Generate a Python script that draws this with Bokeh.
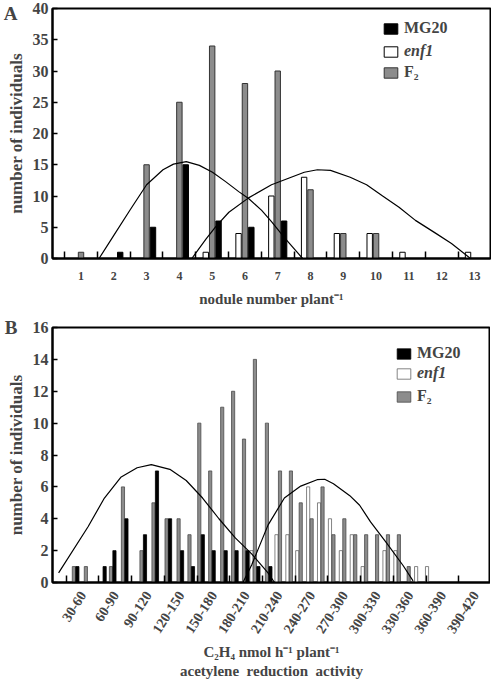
from bokeh.plotting import figure
from bokeh.layouts import column
from bokeh.models import (Range1d, FixedTicker, Legend, LegendItem, LinearAxis,
                          ColumnDataSource)
from bokeh.embed import file_html
from bokeh.resources import INLINE

FONT = "Liberation Serif"
GRAY = "#8c8c8c"
GRAY_LINE = "#4a4a4a"

# ---------------- Panel A data ----------------
nodules = list(range(1, 14))
mg20_a = [0, 1, 5, 15, 6, 5, 6, 0, 0, 0, 0, 0, 0]
enf1_a = [0, 0, 0, 0, 1, 4, 10, 13, 4, 4, 1, 0, 1]
f2_a = [1, 0, 15, 25, 34, 28, 30, 11, 4, 4, 0, 0, 0]

fit_mg20_a_x = [1.55, 2.0, 2.5, 3.0, 3.5, 3.82, 4.21, 4.61, 5.01, 5.41, 5.81, 6.11, 6.51, 6.81, 7.21, 7.76]
fit_mg20_a_y = [0, 3.7, 7.8, 11.8, 14.2, 15.1, 15.5, 14.9, 13.8, 12.3, 10.7, 9.6, 7.7, 5.9, 3.3, 0]
fit_enf1_a_x = [4.38, 4.81, 5.11, 5.51, 6.11, 6.81, 7.31, 7.81, 8.21, 8.61, 9.21, 9.71, 10.2, 10.7, 11.2, 11.8, 12.3, 12.88]
fit_enf1_a_y = [0, 3.1, 5.1, 7.4, 9.7, 11.8, 12.8, 13.8, 14.2, 14.1, 13.0, 11.8, 10.0, 8.2, 6.1, 4.1, 2.4, 0]

# ---------------- Panel B data ----------------
act_x = [37, 48, 62, 71, 82, 99, 110, 122, 133, 143, 152, 162, 173, 183, 193, 203,
         214, 226, 236, 245, 255, 265, 275, 285, 295, 305, 315, 325, 335, 344, 354, 364]
mg20_b = [1, 0, 1, 2, 4, 3, 7, 4, 2, 1, 3, 2, 2, 2, 2, 1,
          1, 0, 0, 0, 0, 0, 0, 0, 0, 0, 0, 0, 0, 0, 0, 0]
enf1_b = [0, 0, 0, 0, 0, 0, 0, 0, 0, 0, 0, 0, 0, 0, 0, 2,
          0, 3, 3, 2, 6, 5, 4, 2, 3, 1, 0, 2, 2, 0, 1, 1]
f2_b = [1, 1, 0, 1, 6, 2, 5, 4, 4, 3, 10, 7, 11, 12, 9, 14,
        10, 7, 7, 5, 4, 6, 3, 4, 3, 3, 3, 3, 3, 1, 0, 0]
class_lo = [30, 60, 90, 120, 150, 180, 210, 240, 270, 300, 330, 360, 390]
class_hi = [60, 90, 120, 150, 180, 210, 240, 270, 300, 330, 360, 390, 420]

fit_mg20_b_x = [23, 50, 65, 80, 95, 108, 125, 140, 155, 170, 185, 200, 215, 221]
fit_mg20_b_y = [0.6, 3.5, 5.3, 6.6, 7.2, 7.4, 7.1, 6.4, 5.3, 4.0, 2.8, 1.8, 0.6, 0]
fit_enf1_b_x = [192, 200, 215, 230, 245, 260, 267, 275, 290, 299, 309, 324, 339, 348]
fit_enf1_b_y = [0, 1.1, 3.6, 5.3, 6.05, 6.45, 6.48, 6.2, 5.45, 4.85, 3.8, 2.45, 1.05, 0.1]


def bars(p, xs, vals, offset, width, fill, line, lw):
    src = ColumnDataSource(dict(
        x=[x + offset for x, v in zip(xs, vals) if v > 0],
        top=[v for v in vals if v > 0]))
    return p.vbar(x="x", top="top", bottom=0, width=width, source=src,
                  fill_color=fill, line_color=line, line_width=lw)


def style(p):
    p.outline_line_color = "black"
    p.outline_line_width = 2
    p.xgrid.visible = False
    p.ygrid.visible = False
    for ax in (p.xaxis[0], p.yaxis[0]):
        ax.axis_line_width = 2
        ax.major_label_text_font = FONT
        ax.major_label_text_font_style = "bold"
        ax.axis_label_text_font = FONT
        ax.axis_label_text_font_style = "bold"
        ax.minor_tick_line_color = None
    p.yaxis.major_tick_in = 5
    p.yaxis.major_tick_out = 0
    p.yaxis.major_tick_line_width = 1.5
    p.yaxis.major_label_text_font_size = "16px"
    p.yaxis.axis_label_text_font_size = "17px"
    p.yaxis.major_label_standoff = 4
    p.yaxis.axis_label_standoff = 4
    p.xaxis.major_tick_line_color = None
    p.xaxis.minor_tick_line_color = "black"
    p.xaxis.minor_tick_in = 7
    p.xaxis.minor_tick_out = 0
    p.xaxis.minor_tick_line_width = 1.5


def legends(p, rs, positions):
    labels = ["MG20", "enf1", "F\u2082"]
    styles = ["bold", "bold italic", "bold"]
    for r, lab, st, loc in zip(rs, labels, styles, positions):
        lg = Legend(items=[LegendItem(label=lab, renderers=[r])], location=loc,
                    padding=0, margin=0, spacing=0, glyph_width=17, glyph_height=13,
                    label_height=13, label_standoff=5,
                    label_text_font=FONT, label_text_font_style=st,
                    label_text_font_size="16px",
                    border_line_color=None, background_fill_alpha=0)
        p.add_layout(lg)


def panel_letter(p, text, ytop):
    ax = LinearAxis(ticker=FixedTicker(ticks=[ytop]), major_label_overrides={ytop: text})
    ax.axis_line_color = None
    ax.major_tick_line_color = None
    ax.minor_tick_line_color = None
    ax.major_tick_out = 0
    ax.major_tick_in = 0
    ax.major_label_text_font = FONT
    ax.major_label_text_font_style = "bold"
    ax.major_label_text_font_size = "19px"
    ax.major_label_standoff = -14
    p.add_layout(ax, "left")


# ---------------- Panel A ----------------
pa = figure(frame_width=438, frame_height=250, x_range=Range1d(0.13, 13.49), y_range=Range1d(0, 40),
            output_backend="svg", toolbar_location=None,
            min_border_left=39, min_border_right=1, min_border_top=8, min_border_bottom=50)
style(pa)
pa.yaxis.ticker = FixedTicker(ticks=list(range(0, 41, 5)))
pa.xaxis.ticker = FixedTicker(ticks=nodules, minor_ticks=[n - 0.5 for n in nodules])
pa.xaxis.major_label_text_font_size = "12px"
pa.xaxis.major_label_standoff = 7
pa.xaxis.axis_label = "nodule number plant\u207b\u00b9"
pa.xaxis.axis_label_text_font_size = "15px"
pa.xaxis.axis_label_standoff = 8
pa.yaxis.axis_label = "number of individuals"

ra_w = bars(pa, nodules, enf1_a, -0.195, 0.165, "white", "black", 1)
ra_g = bars(pa, nodules, f2_a, 0.0, 0.165, GRAY, "#333333", 1)
ra_b = bars(pa, nodules, mg20_a, 0.195, 0.165, "black", "black", 1)
pa.line(fit_mg20_a_x, fit_mg20_a_y, line_color="black", line_width=1.2)
pa.line(fit_enf1_a_x, fit_enf1_a_y, line_color="black", line_width=1.2)
legends(pa, [ra_b, ra_w, ra_g], [(330, 221), (330, 198), (330, 177)])
panel_letter(pa, "A", 40)

# ---------------- Panel B ----------------
pb = figure(frame_width=438, frame_height=255, x_range=Range1d(17.4, 419), y_range=Range1d(0, 16),
            output_backend="svg", toolbar_location=None,
            min_border_left=39, min_border_right=1, min_border_top=18, min_border_bottom=88)
style(pb)
pb.yaxis.ticker = FixedTicker(ticks=list(range(0, 17, 2)))
centers = [(lo + hi) / 2 for lo, hi in zip(class_lo, class_hi)]
pb.xaxis.ticker = FixedTicker(ticks=centers, minor_ticks=class_lo)
pb.xaxis.major_label_overrides = {c: f"{lo}-{hi}" for c, lo, hi in zip(centers, class_lo, class_hi)}
pb.xaxis.major_label_orientation = 1.0
pb.xaxis.major_label_text_font_size = "14px"
pb.xaxis.major_label_standoff = 4
pb.xaxis.axis_label = ("C\u2082H\u2084 nmol h\u207b\u00b9 plant\u207b\u00b9\n"
                       "acetylene \u00a0reduction \u00a0activity")
pb.xaxis.axis_label_text_font_size = "15px"
pb.xaxis.axis_label_standoff = 4
pb.yaxis.axis_label = "number of individuals"

rb_w = bars(pb, act_x, enf1_b, -3.2, 2.9, "white", "#666666", 0.8)
rb_g = bars(pb, act_x, f2_b, 0.0, 2.9, GRAY, GRAY_LINE, 0.8)
rb_b = bars(pb, act_x, mg20_b, 3.2, 2.9, "black", "black", 0.8)
pb.line(fit_mg20_b_x, fit_mg20_b_y, line_color="black", line_width=1.2)
pb.line(fit_enf1_b_x, fit_enf1_b_y, line_color="black", line_width=1.2)
legends(pb, [rb_b, rb_w, rb_g], [(343, 220), (343, 200), (343, 177)])
panel_letter(pb, "B", 16)

layout = column(pa, pb)
open("out.html", "w").write(file_html(layout, INLINE))
